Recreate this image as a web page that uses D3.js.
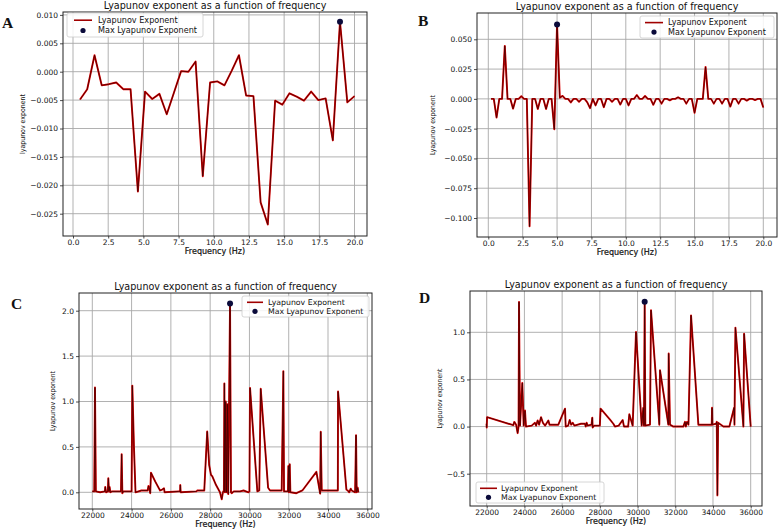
<!DOCTYPE html>
<html>
<head>
<meta charset="utf-8">
<script src="https://cdn.jsdelivr.net/npm/d3@7"></script>
<style>
    body { margin: 0; background: #fff; }
    svg { display: block; }
</style>
</head>
<body>
<div id="chart"></div>
<script>
// Panel A: 0.5 .. 20 Hz
const freqA = [0.5, 1.01, 1.53, 2.04, 2.55, 3.07, 3.58, 4.09, 4.61, 5.12, 5.63, 6.14, 6.66, 7.17,
    7.68, 8.2, 8.71, 9.22, 9.74, 10.25, 10.76, 11.28, 11.79, 12.3, 12.82, 13.33, 13.84, 14.36,
    14.87, 15.38, 15.89, 16.41, 16.92, 17.43, 17.95, 18.46, 18.97, 19.49, 20.0];
const lyapA = [-0.0049, -0.0031, 0.0029, -0.0024, -0.0022, -0.0019, -0.0031, -0.0031, -0.0211,
    -0.0035, -0.0048, -0.0039, -0.0075, -0.0037, 0.0001, 0.0000, 0.0018, -0.0184, -0.0019,
    -0.0017, -0.0024, 0.0002, 0.0029, -0.0042, -0.0043, -0.0230, -0.0269, -0.0051, -0.0058,
    -0.0038, -0.0044, -0.0051, -0.0035, -0.0050, -0.0047, -0.0121, 0.0088, -0.0054, -0.0043];

// Panel B: 0.2 .. 20 Hz
const freqB = [0.2, 0.4, 0.6, 0.8, 1.0, 1.2, 1.4, 1.6, 1.8, 2.0, 2.2, 2.4, 2.6, 2.8, 3.0, 3.2, 3.4,
    3.6, 3.8, 4.0, 4.2, 4.4, 4.6, 4.8, 5.0, 5.2, 5.4, 5.6, 5.8, 6.0, 6.2, 6.4, 6.6, 6.8, 7.0, 7.2,
    7.4, 7.6, 7.8, 8.0, 8.2, 8.4, 8.6, 8.8, 9.0, 9.2, 9.4, 9.6, 9.8, 10.0, 10.2, 10.4, 10.6, 10.8,
    11.0, 11.2, 11.4, 11.6, 11.8, 12.0, 12.2, 12.4, 12.6, 12.8, 13.0, 13.2, 13.4, 13.6, 13.8, 14.0,
    14.2, 14.4, 14.6, 14.8, 15.0, 15.2, 15.4, 15.6, 15.8, 16.0, 16.2, 16.4, 16.6, 16.8, 17.0, 17.2,
    17.4, 17.6, 17.8, 18.0, 18.2, 18.4, 18.6, 18.8, 19.0, 19.2, 19.4, 19.6, 19.8, 20.0];
const lyapB = [0, 0, -0.0157, 0, 0, 0.0445, 0, 0, -0.0082, 0, 0, 0.0022, 0, 0, -0.107, 0, 0,
    -0.0085, 0, 0, -0.0085, 0, 0, -0.0255, 0.0625, 0.001, 0.0025, 0, 0, -0.003, 0, 0, -0.0025, 0,
    0, -0.003, -0.0078, 0, -0.0055, 0, 0, -0.007, 0, 0, -0.0025, 0, 0, -0.0048, 0, 0, -0.0055, 0,
    0, 0.0032, 0, 0, 0.0025, 0, 0, -0.005, 0, 0, -0.004, 0, 0, -0.0012, 0, 0, 0.0014, 0, 0, -0.004,
    0, 0, -0.0118, 0, 0, 0, 0.0268, 0, 0, -0.004, 0, 0, -0.004, 0, 0, -0.0065, 0, 0, -0.004, 0, 0,
    -0.0015, 0, 0, -0.001, 0, 0, -0.0072];

// Panel C: 22000 .. 35600 Hz
const freqC = [22000, 22100, 22137, 22180, 22400, 22640, 22660, 22700, 22790, 22816, 22850, 22880,
    22920, 23000, 23460, 23494, 23530, 23580, 24000, 24038, 24120, 24200, 24500, 24820, 24860,
    24920, 24950, 24987, 25200, 25450, 25560, 25650, 25680, 26400, 26470, 26480, 26500, 27300,
    27350, 27700, 27850, 27950, 28044, 28100, 28300, 28500, 28588, 28650, 28700, 28724, 28750,
    28792, 28830, 28877, 28920, 29012, 29060, 29097, 29200, 29521, 29700, 29950, 30000, 30030,
    30403, 30500, 30574, 30950, 31049, 31642, 31727, 31761, 31960, 31982, 32010, 32050, 32084,
    32390, 32695, 33408, 33600, 33629, 33680, 34500, 34511, 34936, 35000, 35080, 35156, 35200,
    35380, 35427, 35460, 35512, 35545];
const lyapC = [0.01, 0.01, 1.155, 0.01, 0.0, 0.01, 0.06, 0.0, 0.01, 0.155, 0.01, 0.06, 0.0, 0.01,
    0.01, 0.42, -0.01, 0.01, 0.01, 1.175, 0.5, 0.0, 0.02, 0.02, 0.07, 0.03, -0.01, 0.215, 0.12,
    0.02, 0.03, 0.045, 0.0, 0.01, 0.01, 0.08, 0.0, 0.01, 0.02, 0.02, 0.67, 0.3, 0.19, 0.18, 0.08,
    0.0, -0.077, 0.0, 0.02, 1.2, 0.0, 1.0, 0.0, 0.97, -0.02, 2.08, 0.0, -0.01, 0.01, 0.01, 0.02,
    0.0, 0.01, 1.15, 0.01, 0.02, 1.14, 0.05, 0.02, 0.02, 1.335, 0.01, 0.01, 0.29, 0.0, 0.31, 0.0,
    -0.01, 0.02, 0.225, -0.015, 0.667, 0.02, 0.02, 1.11, 0.03, 0.02, 0.0, 0.04, 0.02, 0.0, 0.63,
    0.0, 0.05, 0.0];

// Panel D: 22000 .. 36000 Hz
const freqD = [21990, 22000, 22020, 23411, 23464, 23560, 23640, 23690, 23714, 23765, 23889, 23960,
    24030, 24083, 24384, 24560, 24620, 24700, 24780, 24880, 24980, 25100, 25270, 25330, 25500,
    25800, 26153, 26190, 26320, 26400, 26480, 26560, 26650, 27000, 27212, 27250, 27300, 27350,
    27560, 27600, 27620, 27700, 28000, 28040, 28539, 28716, 28800, 29000, 29211, 29281, 29500,
    29564, 29741, 29918, 30218, 30306, 30341, 30377, 30412, 30660, 30713, 31155, 31190, 31632,
    31650, 31720, 31897, 32074, 32427, 32516, 32560, 32621, 32700, 32836, 33225, 33933, 33951,
    33970, 34163, 34200, 34235, 34271, 34553, 34871, 35119, 35140, 35190, 35614, 35650, 36000];
const lyapD = [0.03, -0.01, 0.1, 0.015, 0.05, 0.02, -0.07, 0.0, 1.323, 0.01, 0.463, 0.01, 0.17,
    0.0, 0.01, 0.04, 0.01, 0.065, 0.02, 0.1, 0.04, 0.01, 0.065, 0.02, 0.02, 0.02, 0.19, 0.0, 0.01,
    0.07, 0.02, 0.04, 0.01, 0.03, 0.03, 0.0, 0.04, 0.01, 0.02, 0.095, -0.01, 0.01, 0.01, 0.19,
    0.074, 0.03, 0.0, 0.01, 0.07, 0.0, 0.0, 0.13, 0.01, 1.004, 0.01, 0.2, 0.01, 1.325, 0.01, 0.02,
    1.235, 0.02, 0.598, 0.02, 0.775, 0.02, 0.0, 0.0, 0.0, 0.05, 0.0, 0.05, 0.02, 1.18, 0.02, 0.02,
    0.2, 0.02, 0.03, 0.05, -0.73, 0.04, 0.0, 0.0, 0.2, 0.02, 1.05, 0.0, 0.985, 0.0];

const ticksHz = [0, 2.5, 5, 7.5, 10, 12.5, 15, 17.5, 20];
const ticksKHz = [22000, 24000, 26000, 28000, 30000, 32000, 34000, 36000];
const ticksYA = [0.010, 0.005, 0.000, -0.005, -0.010, -0.015, -0.020, -0.025];
const ticksYB = [0.050, 0.025, 0.000, -0.025, -0.050, -0.075, -0.100];
const ticksYC = [0.0, 0.5, 1.0, 1.5, 2.0];
const ticksYD = [-0.5, 0.0, 0.5, 1.0];

const TITLE = 'Lyapunov exponent as a function of frequency';
const SERIES = ['Lyapunov Exponent', 'Max Lyapunov Exponent'];

const SANS = '"DejaVu Sans", sans-serif';
const NARROW = '"DejaVu Sans Condensed", "DejaVu Sans", sans-serif';
const SERIF = '"Liberation Serif", "DejaVu Serif", serif';

const PANELS = [
    { letter: 'A', freq: freqA, lyap: lyapA, xTicks: ticksHz, yTicks: ticksYA, xFmt: '.1f', yFmt: '.3f',
      xDom: [0, 20], xRng: [73, 354.5], yDom: [-0.025, 0.010], yRng: [213.7, 14.9],
      frame: { l: 63, r: 367, t: 12, b: 236 }, ylabel: 'lyapunov exponent', yLabelX: 23,
      legend: { x: 67, y: 13, w: 136, h: 24, l0: 7, l1: 25, tx: 31, fs: 8.1 }, letterPos: [2, 28] },
    { letter: 'B', freq: freqB, lyap: lyapB, xTicks: ticksHz, yTicks: ticksYB, xFmt: '.1f', yFmt: '.3f',
      xDom: [0, 20], xRng: [488.3, 763.3], yDom: [-0.1, 0.05], yRng: [218, 39.3],
      frame: { l: 477, r: 777, t: 13, b: 237 }, ylabel: 'Lyapunov exponent', yLabelX: 433,
      legend: { x: 640, y: 16, w: 134, h: 22, l0: 5, l1: 23, tx: 28, fs: 8 }, letterPos: [418, 26] },
    { letter: 'C', freq: freqC, lyap: lyapC, xTicks: ticksKHz, yTicks: ticksYC, xFmt: 'd', yFmt: '.1f',
      xDom: [22000, 36000], xRng: [92.3, 367.3], yDom: [0, 2], yRng: [492.3, 310.7],
      frame: { l: 79, r: 372, t: 293, b: 509 }, ylabel: 'Lyapunov exponent', yLabelX: 53,
      legend: { x: 242, y: 296, w: 127, h: 21, l0: 5, l1: 21, tx: 26, fs: 7.8 }, letterPos: [11, 309] },
    { letter: 'D', freq: freqD, lyap: lyapD, xTicks: ticksKHz, yTicks: ticksYD, xFmt: 'd', yFmt: '.1f',
      xDom: [22000, 36000], xRng: [486.7, 750.7], yDom: [-0.5, 1.0], yRng: [473.7, 332.3],
      frame: { l: 470, r: 762, t: 291, b: 506 }, ylabel: 'Lyapunov exponent', yLabelX: 440,
      legend: { x: 476, y: 482, w: 128, h: 21, l0: 4, l1: 21, tx: 25, fs: 7.8 }, letterPos: [419, 303] }
];

const W = 779, H = 530;
const svg = d3.select('#chart').append('svg')
    .attr('width', W).attr('height', H);

function minusFmt(spec) {
    const f = d3.format(spec);
    return v => f(v).replace('-', '\u2212');
}

function drawPanel(p) {
    const g = svg.append('g').style('font-family', SANS);
    const x = d3.scaleLinear().domain(p.xDom).range(p.xRng);
    const y = d3.scaleLinear().domain(p.yDom).range(p.yRng);
    const fr = p.frame;

    // grid
    g.append('g').selectAll('line').data(p.xTicks).join('line')
        .attr('x1', d => x(d)).attr('x2', d => x(d))
        .attr('y1', fr.t).attr('y2', fr.b)
        .attr('stroke', '#a8a8a8').attr('stroke-width', 0.9);
    g.append('g').selectAll('line').data(p.yTicks).join('line')
        .attr('y1', d => y(d)).attr('y2', d => y(d))
        .attr('x1', fr.l).attr('x2', fr.r)
        .attr('stroke', '#a8a8a8').attr('stroke-width', 0.9);

    // axes (ticks + labels)
    const xAxis = d3.axisBottom(x).tickValues(p.xTicks).tickFormat(minusFmt(p.xFmt))
        .tickSizeInner(2.5).tickSizeOuter(0).tickPadding(1.5);
    const yAxis = d3.axisLeft(y).tickValues(p.yTicks).tickFormat(minusFmt(p.yFmt))
        .tickSizeInner(3).tickSizeOuter(0).tickPadding(2);
    const gx = g.append('g').attr('transform', `translate(0,${fr.b})`).call(xAxis);
    const gy = g.append('g').attr('transform', `translate(${fr.l},0)`).call(yAxis);
    [gx, gy].forEach(a => {
        a.attr('font-family', null).attr('font-size', null);
        a.select('.domain').remove();
        a.selectAll('text').style('font-size', '7.5px').attr('fill', '#111');
        a.selectAll('line').attr('stroke', '#222').attr('stroke-width', 0.8);
    });

    // line: red halo with dark core
    const line = d3.line().x((d, i) => x(p.freq[i])).y(d => y(d));
    g.append('path').datum(p.lyap).attr('d', line)
        .attr('fill', 'none').attr('stroke', '#e00000').attr('stroke-width', 1.9)
        .attr('stroke-linejoin', 'round');
    g.append('path').datum(p.lyap).attr('d', line)
        .attr('fill', 'none').attr('stroke', '#3a0000').attr('stroke-width', 0.8)
        .attr('stroke-linejoin', 'round');

    // max marker
    const iMax = d3.maxIndex(p.lyap);
    g.append('circle')
        .attr('cx', x(p.freq[iMax])).attr('cy', y(p.lyap[iMax])).attr('r', 3)
        .attr('fill', '#0b0b3b');

    // frame
    g.append('rect')
        .attr('x', fr.l).attr('y', fr.t)
        .attr('width', fr.r - fr.l).attr('height', fr.b - fr.t)
        .attr('fill', 'none').attr('stroke', '#222').attr('stroke-width', 1);

    // title / labels
    const cx = (fr.l + fr.r) / 2;
    g.append('text').attr('x', cx).attr('y', fr.t - 3.5)
        .attr('text-anchor', 'middle').style('font-size', '9.6px').attr('fill', '#111')
        .text(TITLE);
    g.append('text').attr('x', cx).attr('y', fr.b + 17.8)
        .attr('text-anchor', 'middle').style('font-size', '8px')
        .attr('fill', '#111').attr('stroke', '#111').attr('stroke-width', 0.2)
        .text('Frequency (Hz)');
    const cy = (fr.t + fr.b) / 2;
    g.append('text')
        .attr('transform', `translate(${p.yLabelX},${cy}) rotate(-90)`)
        .attr('text-anchor', 'middle').attr('dy', '0.35em')
        .style('font-family', NARROW).style('font-size', '7px')
        .attr('textLength', 60).attr('lengthAdjust', 'spacingAndGlyphs')
        .attr('fill', '#111').text(p.ylabel);

    // legend
    const L = p.legend;
    const lg = g.append('g').attr('transform', `translate(${L.x},${L.y})`);
    lg.append('rect').attr('width', L.w).attr('height', L.h).attr('rx', 2)
        .attr('fill', '#fff').attr('fill-opacity', 0.85)
        .attr('stroke', '#ccc').attr('stroke-width', 0.8);
    lg.append('line').attr('x1', L.l0).attr('x2', L.l1).attr('y1', L.h * 0.3).attr('y2', L.h * 0.3)
        .attr('stroke', '#a00000').attr('stroke-width', 1.6);
    lg.append('circle').attr('cx', (L.l0 + L.l1) / 2).attr('cy', L.h * 0.73).attr('r', 2.6)
        .attr('fill', '#0b0b3b');
    lg.selectAll('text').data(SERIES).join('text')
        .attr('x', L.tx).attr('y', (d, i) => L.h * (i === 0 ? 0.3 : 0.73))
        .attr('dy', '0.35em').style('font-size', L.fs + 'px').attr('fill', '#111').text(d => d);

    // panel letter
    svg.append('text').attr('x', p.letterPos[0]).attr('y', p.letterPos[1])
        .style('font-family', SERIF).style('font-weight', 'bold').style('font-size', '15.5px')
        .attr('fill', '#111').text(p.letter);
}

PANELS.forEach(drawPanel);
</script>
</body>
</html>
